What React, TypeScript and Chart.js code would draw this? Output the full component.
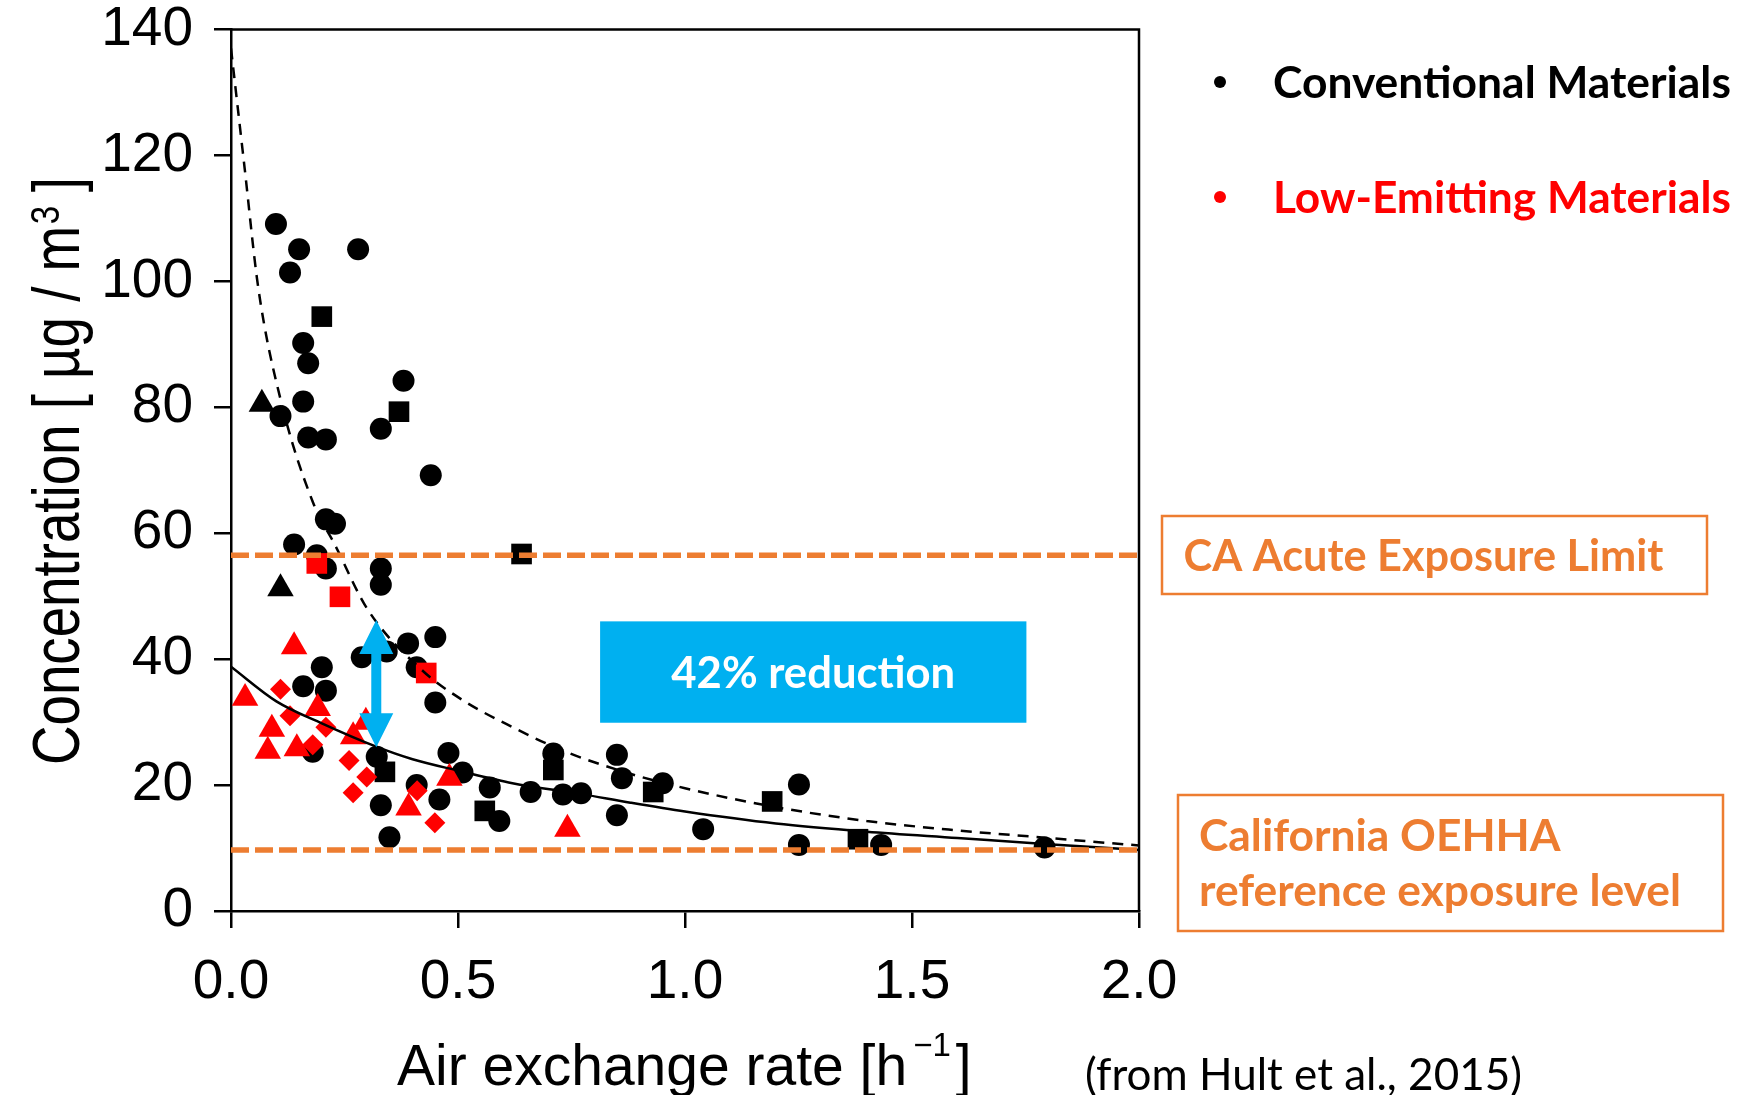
import React, { useEffect, useRef } from 'react';
import { Chart, registerables } from 'chart.js';

Chart.register(...registerables);

const W = 1739;
const H = 1095;

// ---- axis ticks ----
const xTickValues = [0, 0.5, 1.0, 1.5, 2.0];
const yTickValues = [0, 20, 40, 60, 80, 100, 120, 140];

// ---- Conventional materials (black) ----
const convCircleX = [0.099, 0.150, 0.280, 0.130, 0.159, 0.170, 0.380, 0.159, 0.109, 0.170, 0.209, 0.330, 0.440, 0.209, 0.229, 0.139, 0.189, 0.209, 0.330, 0.330, 0.288, 0.343, 0.390, 0.450, 0.409, 0.450, 0.200, 0.159, 0.209, 0.180, 0.321, 0.330, 0.349, 0.409, 0.459, 0.479, 0.510, 0.570, 0.591, 0.660, 0.710, 0.731, 0.771, 0.850, 0.861, 0.850, 0.951, 1.040, 1.251, 1.251, 1.432, 1.792];
const convCircleY = [109.1, 105.1, 105.1, 101.4, 90.2, 87.0, 84.2, 80.9, 78.6, 75.2, 74.9, 76.6, 69.2, 62.2, 61.5, 58.2, 56.5, 54.4, 54.4, 51.8, 40.3, 41.2, 42.5, 43.5, 38.7, 33.1, 38.7, 35.7, 35.0, 25.3, 24.5, 16.8, 11.7, 20.0, 17.7, 25.1, 22.0, 19.6, 14.3, 18.9, 25.0, 18.5, 18.7, 24.8, 21.1, 15.2, 20.3, 13.0, 20.1, 10.5, 10.5, 10.1];
const convSquareX = [0.200, 0.370, 0.640, 0.339, 0.559, 0.710, 0.930, 1.192, 1.381];
const convSquareY = [94.4, 79.3, 56.7, 22.1, 15.9, 22.4, 18.9, 17.4, 11.4];
const convTriangleX = [0.068, 0.109];
const convTriangleY = [80.5, 51.2];

// ---- Low-emitting materials (red) ----
const lowSquareX = [0.189, 0.240, 0.430];
const lowSquareY = [55.2, 49.9, 37.8];
const lowTriangleX = [0.139, 0.031, 0.191, 0.090, 0.081, 0.145, 0.269, 0.297, 0.391, 0.481, 0.741];
const lowTriangleY = [42.0, 33.8, 32.2, 28.9, 25.4, 25.8, 27.7, 30.0, 16.4, 21.1, 13.0];
const lowDiamondX = [0.109, 0.130, 0.209, 0.180, 0.260, 0.299, 0.269, 0.410, 0.449];
const lowDiamondY = [35.2, 31.0, 29.2, 26.4, 23.9, 21.3, 18.8, 19.1, 14.0];

// ---- fitted curves ----
const convFitX = [0, 0.03, 0.06, 0.11, 0.18, 0.23, 0.30, 0.42, 0.51, 0.62, 0.73, 0.87, 1.0, 1.2, 1.4, 1.6, 1.8, 2.0];
const convFitY = [137, 118, 99, 81, 65, 58, 48, 38.3, 33.5, 29.2, 25.5, 22.0, 19.5, 16.5, 14.3, 12.8, 11.6, 10.4];
const lowFitX = [0, 0.1, 0.2, 0.32, 0.4, 0.5, 0.62, 0.77, 0.88, 1.0, 1.2, 1.4, 1.6, 1.8, 2.0];
const lowFitY = [38.8, 33.3, 29.8, 26.1, 24.1, 22.3, 20.3, 18.6, 17.2, 15.8, 13.9, 12.6, 11.6, 10.6, 9.7];

// ---- reference levels ----
const acuteLimit = 56.5;
const relLevel = 9.7;
const levelSpanX = [0, 2.0];

// ---- annotation values ----
const reductionLabel = '42% reduction';
const arrowX = 0.32;
const arrowFrom = 46.2;
const arrowTo = 26.0;
const reductionBoxX = [0.813, 1.752];
const reductionBoxY = [29.9, 46.0];

const legendLabels = ['Conventional Materials', 'Low-Emitting Materials'];
const acuteLabel = 'CA Acute Exposure Limit';
const relLabels = ['California OEHHA', 'reference exposure level'];
const citation = '(from Hult et al., 2015)';

const ORANGE = '#ED7D31';
const BLUE = '#00B0F0';
const RED = '#FF0000';
const ARIAL = "'Liberation Sans', Arial, sans-serif";
const CAL = "Lato, 'Open Sans', sans-serif";

const pts = (xs: number[], ys: number[]) => xs.map((x, i) => ({ x, y: ys[i] }));

function fitSize(ctx: CanvasRenderingContext2D, text: string, weight: string, family: string, target: number) {
  ctx.font = `${weight} 100px ${family}`;
  return (100 * target) / ctx.measureText(text).width;
}

const overlayPlugin = {
  id: 'overlay',
  afterDatasetsDraw(chart: any) {
    const { ctx, scales } = chart;
    const xs = scales.x;
    const ys = scales.y;
    ctx.save();
    // blue reduction box
    const bx0 = xs.getPixelForValue(reductionBoxX[0]);
    const bx1 = xs.getPixelForValue(reductionBoxX[1]);
    const byTop = ys.getPixelForValue(reductionBoxY[1]);
    const byBot = ys.getPixelForValue(reductionBoxY[0]);
    ctx.fillStyle = BLUE;
    ctx.fillRect(bx0, byTop, bx1 - bx0, byBot - byTop);
    const s = fitSize(ctx, reductionLabel, 'bold', CAL, 284);
    ctx.font = `bold ${s}px ${CAL}`;
    ctx.fillStyle = '#fff';
    ctx.textAlign = 'center';
    ctx.textBaseline = 'alphabetic';
    ctx.fillText(reductionLabel, (bx0 + bx1) / 2, (byTop + byBot) / 2 + 0.358 * s);

    // double-headed arrow
    const ax = xs.getPixelForValue(arrowX);
    const aTop = ys.getPixelForValue(arrowFrom);
    const aBot = ys.getPixelForValue(arrowTo);
    const hh = 34, hw = 17, sw = 5;
    ctx.fillStyle = BLUE;
    ctx.beginPath();
    ctx.moveTo(ax, aTop);
    ctx.lineTo(ax + hw, aTop + hh);
    ctx.lineTo(ax + sw, aTop + hh);
    ctx.lineTo(ax + sw, aBot - hh);
    ctx.lineTo(ax + hw, aBot - hh);
    ctx.lineTo(ax, aBot);
    ctx.lineTo(ax - hw, aBot - hh);
    ctx.lineTo(ax - sw, aBot - hh);
    ctx.lineTo(ax - sw, aTop + hh);
    ctx.lineTo(ax - hw, aTop + hh);
    ctx.closePath();
    ctx.fill();
    ctx.restore();
  },
  afterDraw(chart: any) {
    const { ctx, chartArea } = chart;
    ctx.save();
    // frame top & right
    ctx.strokeStyle = '#000';
    ctx.lineWidth = 2.5;
    ctx.beginPath();
    ctx.moveTo(chartArea.left, chartArea.top);
    ctx.lineTo(chartArea.right, chartArea.top);
    ctx.lineTo(chartArea.right, chartArea.bottom);
    ctx.stroke();

    ctx.fillStyle = '#000';
    ctx.textAlign = 'left';
    ctx.textBaseline = 'alphabetic';

    // y title (rotated, condensed)
    {
      const main = 'Concentration [ µg / m';
      const sup = '3';
      const end = ' ]';
      ctx.font = `66px ${ARIAL}`;
      const wMain = ctx.measureText(main).width;
      const wEnd = ctx.measureText(end).width;
      ctx.font = `40px ${ARIAL}`;
      const wSup = ctx.measureText(sup).width;
      const total = wMain + wSup + wEnd;
      const sx = 588 / total;
      ctx.save();
      ctx.translate(79, 765);
      ctx.rotate(-Math.PI / 2);
      ctx.scale(sx, 1);
      ctx.font = `66px ${ARIAL}`;
      ctx.fillText(main, 0, 0);
      ctx.font = `40px ${ARIAL}`;
      ctx.fillText(sup, wMain + 2, -20);
      ctx.font = `66px ${ARIAL}`;
      ctx.fillText(end, wMain + wSup, 0);
      ctx.restore();
    }

    // x title
    {
      const base = 1085;
      let cx = 397;
      ctx.font = `57px ${ARIAL}`;
      const t1 = 'Air exchange rate [h';
      ctx.fillText(t1, cx, base);
      cx += ctx.measureText(t1).width + 6;
      ctx.font = `33px ${ARIAL}`;
      ctx.fillText('\u22121', cx, base - 29);
      cx += ctx.measureText('\u22121').width + 5;
      ctx.font = `57px ${ARIAL}`;
      ctx.fillText(']', cx, base);
    }

    // legend
    const legColors = ['#000', RED];
    const legBase = [98, 213];
    const legDot = [82, 197];
    legendLabels.forEach((lab, i) => {
      ctx.fillStyle = legColors[i];
      ctx.beginPath();
      ctx.arc(1220, legDot[i], 6, 0, Math.PI * 2);
      ctx.fill();
      const s = fitSize(ctx, lab, 'bold', CAL, 458);
      ctx.font = `bold ${s}px ${CAL}`;
      ctx.fillText(lab, 1273, legBase[i]);
    });

    // orange boxes
    ctx.strokeStyle = ORANGE;
    ctx.lineWidth = 2.5;
    ctx.fillStyle = '#fff';
    ctx.fillRect(1162, 516, 545, 78);
    ctx.strokeRect(1162, 516, 545, 78);
    ctx.fillRect(1178, 795, 545, 136);
    ctx.strokeRect(1178, 795, 545, 136);
    ctx.fillStyle = ORANGE;
    {
      const s = fitSize(ctx, acuteLabel, 'bold', CAL, 480);
      ctx.font = `bold ${s}px ${CAL}`;
      ctx.fillText(acuteLabel, 1183.5, 570.7);
      const s2 = fitSize(ctx, relLabels[1], 'bold', CAL, 482);
      ctx.font = `bold ${s2}px ${CAL}`;
      ctx.fillText(relLabels[0], 1199, 850.7);
      ctx.fillText(relLabels[1], 1199, 905.7);
    }

    // citation
    ctx.fillStyle = '#000';
    {
      const s = fitSize(ctx, citation, 'normal', CAL, 437);
      ctx.font = `normal ${s}px ${CAL}`;
      ctx.fillText(citation, 1085, 1090);
    }
    ctx.restore();
  },
};

export default function App() {
  const ref = useRef<HTMLCanvasElement | null>(null);

  useEffect(() => {
    if (!ref.current) return;
    const scatterBase = { type: 'scatter', showLine: false, clip: false, pointBorderWidth: 0 };
    const chart = new Chart(ref.current, {
      type: 'scatter',
      data: {
        datasets: [
          {
            type: 'line', label: 'acute', data: pts(levelSpanX, [acuteLimit, acuteLimit]),
            borderColor: ORANGE, borderWidth: 5.5, borderDash: [18, 6], pointRadius: 0, order: 0, fill: false,
          },
          {
            type: 'line', label: 'rel', data: pts(levelSpanX, [relLevel, relLevel]),
            borderColor: ORANGE, borderWidth: 5.5, borderDash: [18, 6], pointRadius: 0, order: 0, fill: false,
          },
          {
            type: 'line', label: 'conv fit', data: pts(convFitX, convFitY),
            borderColor: '#000', borderWidth: 2.5, borderDash: [11, 8], pointRadius: 0,
            cubicInterpolationMode: 'monotone', order: 0, fill: false,
          },
          {
            type: 'line', label: 'low fit', data: pts(lowFitX, lowFitY),
            borderColor: '#000', borderWidth: 2.5, pointRadius: 0,
            cubicInterpolationMode: 'monotone', order: 0, fill: false,
          },
          { ...scatterBase, label: 'low sq', data: pts(lowSquareX, lowSquareY), pointStyle: 'rect', pointRadius: 14.6, pointBackgroundColor: RED, order: 1 },
          { ...scatterBase, label: 'low dia', data: pts(lowDiamondX, lowDiamondY), pointStyle: 'rectRot', pointRadius: 10.5, pointBackgroundColor: RED, order: 1 },
          { ...scatterBase, label: 'low tri', data: pts(lowTriangleX, lowTriangleY), pointStyle: 'triangle', pointRadius: 15.3, pointBackgroundColor: RED, order: 1 },
          { ...scatterBase, label: 'conv sq', data: pts(convSquareX, convSquareY), pointStyle: 'rect', pointRadius: 14.6, pointBackgroundColor: '#000', order: 2 },
          { ...scatterBase, label: 'conv tri', data: pts(convTriangleX, convTriangleY), pointStyle: 'triangle', pointRadius: 15.3, pointBackgroundColor: '#000', order: 2 },
          { ...scatterBase, label: 'conv circ', data: pts(convCircleX, convCircleY), pointStyle: 'circle', pointRadius: 11, pointBackgroundColor: '#000', order: 2 },
        ] as any,
      },
      options: {
        responsive: false,
        devicePixelRatio: 1,
        animation: false,
        events: [],
        layout: { padding: { left: 0, top: 29.5, right: W - 1139, bottom: 0 } },
        plugins: { legend: { display: false }, tooltip: { enabled: false }, title: { display: false } },
        scales: {
          x: {
            type: 'linear', min: 0, max: 2,
            afterBuildTicks: (scale: any) => { scale.ticks = xTickValues.map((v) => ({ value: v })); },
            afterFit: (scale: any) => { scale.height = H - 911; },
            ticks: {
              callback: (v: any) => Number(v).toFixed(1),
              font: { family: ARIAL, size: 55, lineHeight: 1 }, color: '#000', padding: 27, maxRotation: 0,
            },
            grid: { display: true, drawOnChartArea: false, drawTicks: true, tickLength: 17, color: '#000', lineWidth: 2.5 },
            border: { display: true, color: '#000', width: 2.5 },
          },
          y: {
            type: 'linear', min: 0, max: 140,
            afterBuildTicks: (scale: any) => { scale.ticks = yTickValues.map((v) => ({ value: v })); },
            afterFit: (scale: any) => { scale.width = 231; },
            ticks: {
              callback: (v: any) => String(v),
              font: { family: ARIAL, size: 55, lineHeight: 0.2 }, color: '#000', padding: 21,
            },
            grid: { display: true, drawOnChartArea: false, drawTicks: true, tickLength: 17, color: '#000', lineWidth: 2.5 },
            border: { display: true, color: '#000', width: 2.5 },
          },
        },
      } as any,
      plugins: [overlayPlugin],
    });
    return () => chart.destroy();
  }, []);

  return (
    <div style={{ position: 'absolute', left: 0, top: 0, width: W, height: H, background: '#fff' }}>
      <canvas ref={ref} width={W} height={H} style={{ display: 'block', width: W, height: H }} />
    </div>
  );
}
